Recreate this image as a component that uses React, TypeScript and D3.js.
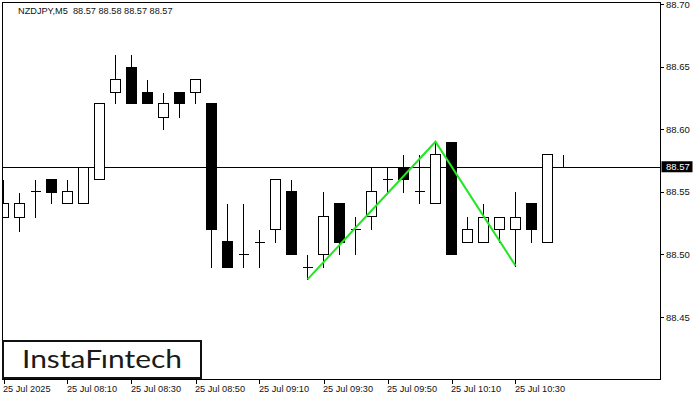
import * as d3 from "d3";

const opens = [88.53, 88.53, 88.551, 88.56, 88.541, 88.541, 88.56, 88.63, 88.65, 88.63, 88.61, 88.63, 88.63, 88.621, 88.511, 88.5, 88.51, 88.52, 88.551, 88.49, 88.5, 88.541, 88.52, 88.531, 88.56, 88.57, 88.551, 88.541, 88.59, 88.51, 88.51, 88.52, 88.52, 88.541, 88.51, 88.57];
const highs = [88.56, 88.55, 88.56, 88.56, 88.56, 88.57, 88.621, 88.66, 88.66, 88.64, 88.63, 88.63, 88.64, 88.621, 88.541, 88.541, 88.52, 88.56, 88.56, 88.5, 88.551, 88.541, 88.531, 88.57, 88.57, 88.58, 88.58, 88.59, 88.59, 88.531, 88.541, 88.53, 88.551, 88.541, 88.58, 88.58];
const lows = [88.53, 88.519, 88.53, 88.541, 88.541, 88.541, 88.56, 88.621, 88.621, 88.621, 88.6, 88.61, 88.621, 88.49, 88.49, 88.49, 88.49, 88.51, 88.5, 88.48, 88.49, 88.5, 88.5, 88.52, 88.55, 88.55, 88.541, 88.541, 88.5, 88.51, 88.51, 88.51, 88.491, 88.51, 88.51, 88.57];
const closes = [88.541, 88.541, 88.551, 88.55, 88.551, 88.57, 88.621, 88.64, 88.621, 88.621, 88.621, 88.621, 88.64, 88.52, 88.49, 88.5, 88.51, 88.56, 88.5, 88.49, 88.531, 88.51, 88.52, 88.551, 88.56, 88.56, 88.551, 88.58, 88.5, 88.52, 88.53, 88.53, 88.53, 88.52, 88.58, 88.57];

const priceTicks = [88.45, 88.5, 88.55, 88.6, 88.65, 88.7];
const timeTickIdx = [0, 4, 8, 12, 16, 20, 24, 28, 32];
const timeLabels = ["25 Jul 2025", "25 Jul 08:10", "25 Jul 08:30", "25 Jul 08:50", "25 Jul 09:10", "25 Jul 09:30", "25 Jul 09:50", "25 Jul 10:10", "25 Jul 10:30"];

const patternIdx = [19, 27, 32];
const patternPrice = [88.48, 88.59, 88.491];

const lastPrice = 88.57;
const header = "NZDJPY,M5  88.57 88.58 88.57 88.57";

const W = 700;
const H = 400;
const left = 2.5;
const right = 660.5;
const top = 2.5;
const bottom = 379.5;
const font = "'Liberation Sans', Arial, sans-serif";

export default function App() {
  const x = d3.scaleLinear().domain([0, 35]).range([3.5, 563.5]);
  const y = d3.scaleLinear().domain([88.45, 88.7]).range([317, 4]);
  const snap = (v: number) => Math.round(v) + 0.5;
  const bw = 10;

  const line = d3
    .line<number>()
    .x((d) => x(d))
    .y((_d, i) => y(patternPrice[i]));

  return (
    <svg
      width={W}
      height={H}
      style={{ position: "fixed", left: 0, top: 0, background: "#fff" }}
      fontFamily={font}
    >
      <defs>
        <clipPath id="plot">
          <rect x={left} y={top} width={right - left} height={bottom - top} />
        </clipPath>
      </defs>
      <rect width={W} height={H} fill="#fff" />

      <text x={18} y={11} fontSize={9.2} dominantBaseline="central" fill="#111" xmlSpace="preserve">
        {header}
      </text>

      <g clipPath="url(#plot)" shapeRendering="crispEdges">
        <line x1={left} x2={right} y1={snap(y(lastPrice))} y2={snap(y(lastPrice))} stroke="#000" />
        {opens.map((o, i) => {
          const c = closes[i];
          const cx = x(i);
          const yt = snap(y(Math.max(o, c)));
          const yb = snap(y(Math.min(o, c)));
          const bull = c > o;
          return (
            <g key={i}>
              <line x1={cx} x2={cx} y1={snap(y(highs[i]))} y2={snap(y(lows[i]))} stroke="#000" />
              {yb - yt < 1 ? (
                <line x1={cx - bw / 2} x2={cx + bw / 2} y1={yt} y2={yt} stroke="#000" />
              ) : (
                <rect
                  x={cx - bw / 2}
                  y={yt}
                  width={bw}
                  height={yb - yt}
                  fill={bull ? "#fff" : "#000"}
                  stroke="#000"
                />
              )}
            </g>
          );
        })}
      </g>

      <path
        d={line(patternIdx) ?? ""}
        fill="none"
        stroke="#22e622"
        strokeWidth={2}
      />

      <g shapeRendering="crispEdges">
        <rect x={left} y={top} width={right - left} height={bottom - top} fill="none" stroke="#000" />
      </g>

      {priceTicks.map((p) => (
        <g key={p}>
          <line x1={right} x2={right + 3} y1={snap(y(p))} y2={snap(y(p))} stroke="#000" shapeRendering="crispEdges" />
          <text x={666} y={y(p)} fontSize={9.5} dominantBaseline="central" fill="#111">
            {p.toFixed(2)}
          </text>
        </g>
      ))}

      <rect x={661.5} y={y(lastPrice) - 5.5} width={31} height={11} fill="#000" />
      <text x={666} y={y(lastPrice)} fontSize={9.5} dominantBaseline="central" fill="#fff">
        {lastPrice.toFixed(2)}
      </text>

      {timeTickIdx.map((t, k) => (
        <g key={t}>
          <line x1={snap(x(t))} x2={snap(x(t))} y1={bottom} y2={bottom + 4} stroke="#000" shapeRendering="crispEdges" />
          <text x={x(t) - 0.5} y={392} fontSize={9.2} fill="#111">
            {timeLabels[k]}
          </text>
        </g>
      ))}

      <rect x={3} y={341} width={198} height={37} fill="#fff" stroke="#111" strokeWidth={2} />
      <text
        x={22}
        y={368}
        fontSize={25}
        fontFamily="Lato, 'Noto Sans', sans-serif"
        fill="#1a1a1a"
        textLength={160}
        lengthAdjust="spacingAndGlyphs"
      >
        InstaFıntech
      </text>
    </svg>
  );
}
